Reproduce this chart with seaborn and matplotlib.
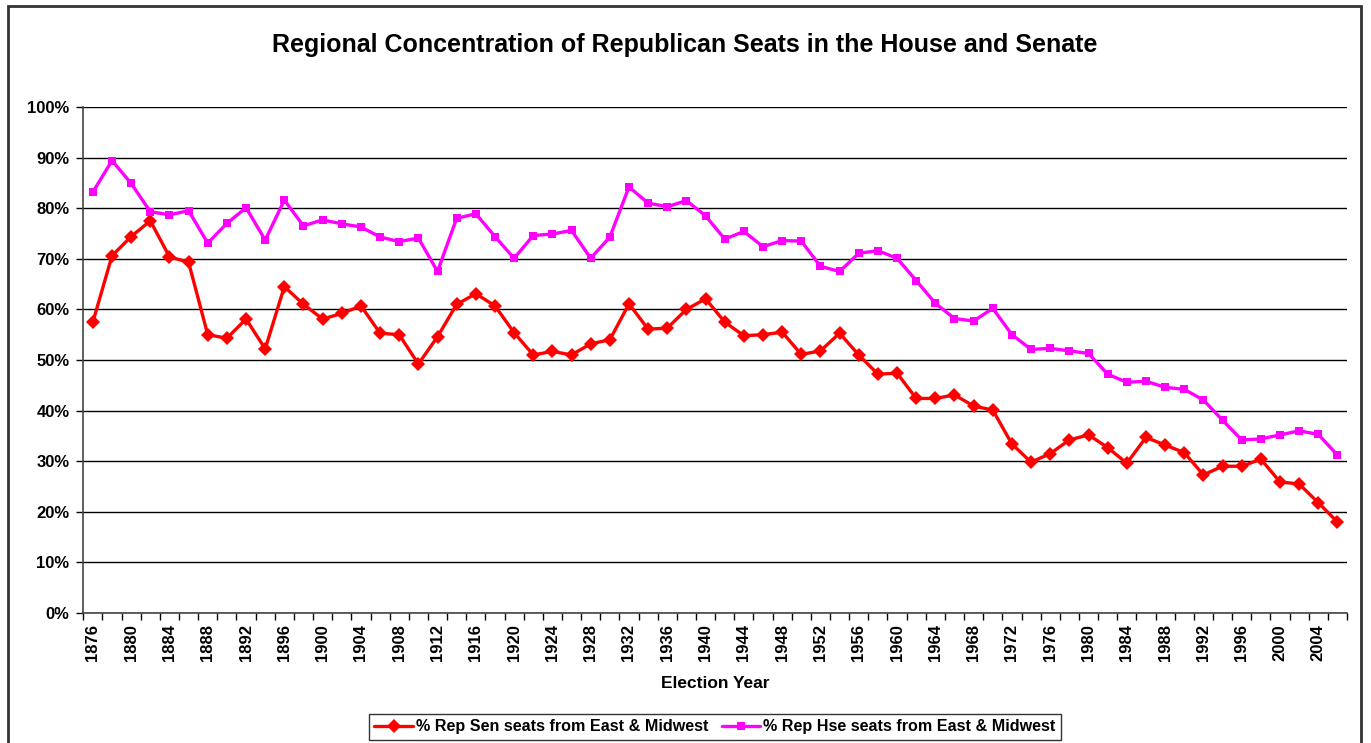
import pandas as pd
import matplotlib
matplotlib.use("Agg")
import matplotlib.pyplot as plt
from matplotlib.patches import Rectangle
from matplotlib.ticker import FixedLocator, FuncFormatter
import seaborn as sns

# Election years (every two years)
years = list(range(1876, 2007, 2))

# % of Republican Senate seats from East & Midwest
sen_pct = [57.5, 70.6, 74.4, 77.5, 70.4, 69.3, 55.0, 54.3, 58.1, 52.2,
           64.5, 61.0, 58.1, 59.2, 60.7, 55.3, 55.0, 49.2, 54.6, 61.0,
           63.1, 60.7, 55.4, 51.0, 51.7, 51.0, 53.2, 54.0, 61.1, 56.1,
           56.3, 60.0, 62.1, 57.5, 54.8, 55.0, 55.5, 51.1, 51.8, 55.3,
           51.0, 47.2, 47.4, 42.4, 42.4, 43.1, 40.9, 40.1, 33.4, 29.8,
           31.5, 34.2, 35.2, 32.7, 29.6, 34.7, 33.2, 31.7, 27.3, 29.0,
           29.0, 30.4, 25.9, 25.5, 21.8, 18.0]

# % of Republican House seats from East & Midwest
hse_pct = [83.2, 89.4, 84.9, 79.3, 78.7, 79.5, 73.1, 77.0, 80.1, 73.7,
           81.6, 76.5, 77.7, 76.9, 76.3, 74.3, 73.4, 74.1, 67.5, 78.0,
           78.9, 74.4, 70.1, 74.6, 74.9, 75.6, 70.1, 74.3, 84.2, 81.0,
           80.3, 81.5, 78.5, 73.9, 75.4, 72.4, 73.6, 73.5, 68.5, 67.5,
           71.1, 71.6, 70.1, 65.7, 61.2, 58.2, 57.7, 60.2, 55.0, 52.1,
           52.3, 51.8, 51.3, 47.2, 45.6, 45.8, 44.6, 44.2, 42.1, 38.1,
           34.2, 34.4, 35.2, 36.0, 35.3, 31.2]

sen_label = "% Rep Sen seats from East & Midwest"
hse_label = "% Rep Hse seats from East & Midwest"

df = pd.DataFrame({"year": years, "sen": sen_pct, "hse": hse_pct})

sns.set_theme(style="white")
plt.rcParams["font.family"] = ["Liberation Sans", "DejaVu Sans"]
plt.rcParams["font.weight"] = "bold"
plt.rcParams["text.color"] = "black"
plt.rcParams["axes.labelcolor"] = "black"
plt.rcParams["xtick.color"] = "black"
plt.rcParams["ytick.color"] = "black"

fig = plt.figure(figsize=(13.71, 7.43), dpi=100)
ax = fig.add_axes([83.3 / 1371, 1 - 613 / 743, (1347 - 83.3) / 1371, (613 - 107) / 743])

sns.lineplot(data=df, x="year", y="sen", ax=ax, color="#FF0000", lw=2.4,
             marker="D", markersize=7.5, markeredgewidth=0, label=sen_label)
sns.lineplot(data=df, x="year", y="hse", ax=ax, color="#FF00FF", lw=2.4,
             marker="s", markersize=5.5, markeredgewidth=0, label=hse_label)

# y axis
ax.set_ylim(0, 100)
ax.set_yticks(range(0, 101, 10))
ax.yaxis.set_major_formatter(FuncFormatter(lambda v, p: f"{v:.0f}%"))
ax.grid(axis="y", color="black", lw=1)
ax.tick_params(axis="y", which="major", direction="out", length=5, width=1,
               color="black", labelcolor="black", labelsize=12, pad=5, left=True)

# x axis: category-style, ticks between years, labels every 4 years
ax.set_xlim(1875, 2007)
ax.xaxis.set_major_locator(FixedLocator(years[::2]))
ax.xaxis.set_minor_locator(FixedLocator(list(range(1875, 2008, 2))))
ax.tick_params(axis="x", which="major", length=0, labelsize=12, pad=8,
               labelcolor="black", labelrotation=90, bottom=True)
ax.tick_params(axis="x", which="minor", direction="out", length=5, width=1,
               color="black", bottom=True)
for lbl in ax.get_xticklabels() + ax.get_yticklabels():
    lbl.set_fontweight("bold")

ax.set_xlabel("Election Year", fontsize=12.5, fontweight="bold", labelpad=11,
              color="black")
ax.set_ylabel("")

for side in ["top", "right"]:
    ax.spines[side].set_visible(False)
for side in ["left", "bottom"]:
    ax.spines[side].set_color("#444444")
    ax.spines[side].set_linewidth(1.2)

fig.suptitle("Regional Concentration of Republican Seats in the House and Senate",
             x=0.4997, y=0.956, fontsize=18, fontweight="bold", color="black")

leg = ax.legend(loc="center", bbox_to_anchor=(715 / 1371, 1 - 727 / 743),
                bbox_transform=fig.transFigure, ncol=2, frameon=True,
                fancybox=False, edgecolor="black",
                handlelength=2.4, handletextpad=0.2, columnspacing=0.8,
                borderpad=0.35, prop={"weight": "bold", "size": 11.6})
leg.get_frame().set_linewidth(1)
for t in leg.get_texts():
    t.set_color("black")

# outer chart border
fig.patches.append(Rectangle((8 / 1371, -0.02), (1361 - 8) / 1371, 1.02 - 6 / 743,
                             transform=fig.transFigure, fill=False,
                             edgecolor="#333333", lw=2, zorder=0))

fig.savefig("out.png", dpi=100)
